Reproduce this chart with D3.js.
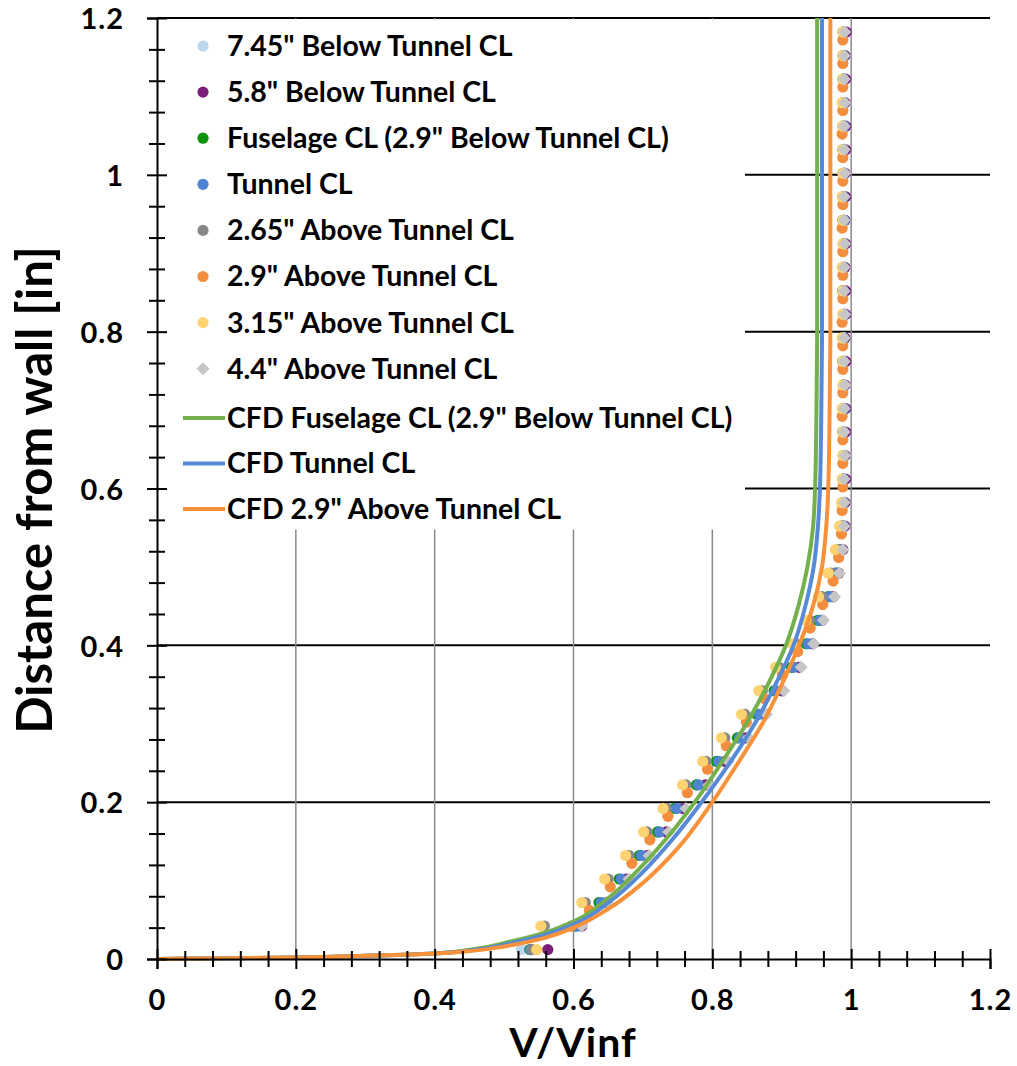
<!DOCTYPE html>
<html>
<head>
<meta charset="utf-8">
<script src="https://cdn.jsdelivr.net/npm/d3@7"></script>
<style>
  body { margin: 0; background: #fff; }
  text { font-family: Lato, "Open Sans", sans-serif; font-weight: 700; fill: #000; }
</style>
</head>
<body>
<svg id="chart" width="1017" height="1066"></svg>
<script>
// ---- Measured boundary-layer profiles: height above wall [in] and V/Vinf ----
const rowHeights = [0.012,0.042,0.072,0.102,0.132,0.162,0.192,0.222,0.252,0.282,
  0.312,0.342,0.372,0.402,0.432,0.462,0.492,0.522,0.552,0.582,
  0.612,0.642,0.672,0.702,0.732,0.762,0.792,0.822,0.852,0.882,
  0.912,0.942,0.972,1.002,1.032,1.062,1.092,1.122,1.152,1.182];
const orangeHeights = [0.042,0.062,0.092,0.122,0.152,0.182,0.212,0.242,0.272,0.302,
  0.332,0.362,0.392,0.422,0.452,0.482,0.512,0.542,0.572,0.602,
  0.632,0.662,0.692,0.722,0.752,0.782,0.812,0.842,0.872,0.902,
  0.932,0.962,0.992,1.022,1.052,1.082,1.112,1.142,1.172];
const diamondHeights = [0.042,0.072,0.102,0.132,0.162,0.192,0.222,0.252,0.282,
  0.312,0.342,0.372,0.402,0.432,0.462,0.492,0.522,0.552,0.582,
  0.612,0.642,0.672,0.702,0.732,0.762,0.792,0.822,0.852,0.882,
  0.912,0.942,0.972,1.002,1.032,1.062,1.092,1.122,1.152,1.182];

const vBelow745 = [0.525,0.600,0.636,0.667,0.696,0.722,0.748,0.778,0.807,0.837,0.866,0.891,0.916,0.937,0.955,0.969,0.979,0.986,0.989,0.989,
  0.989,0.990,0.989,0.990,0.989,0.990,0.989,0.989,0.990,0.989,0.990,0.989,0.989,0.990,0.989,0.990,0.989,0.989,0.990,0.989];
const vBelow58 = [0.563,0.612,0.648,0.676,0.706,0.734,0.758,0.790,0.818,0.848,0.875,0.900,0.925,0.944,0.958,0.974,0.982,0.988,0.991,0.991,
  0.992,0.991,0.992,0.992,0.991,0.992,0.991,0.992,0.992,0.991,0.992,0.991,0.992,0.991,0.992,0.992,0.991,0.992,0.991,0.993];
const vFuselage = [0.537,0.602,0.637,0.666,0.695,0.721,0.746,0.777,0.806,0.836,0.864,0.889,0.914,0.935,0.952,0.967,0.977,0.985,0.988,0.989,
  0.989,0.989,0.988,0.989,0.989,0.988,0.989,0.989,0.988,0.989,0.989,0.988,0.989,0.989,0.988,0.989,0.989,0.988,0.989,0.989];
const vTunnel = [0.538,0.605,0.640,0.669,0.698,0.724,0.749,0.780,0.809,0.839,0.867,0.892,0.917,0.938,0.955,0.969,0.978,0.986,0.989,0.989,
  0.989,0.989,0.989,0.990,0.989,0.989,0.989,0.990,0.989,0.989,0.989,0.990,0.989,0.989,0.989,0.990,0.989,0.989,0.989,0.989];
const vAbove265 = [0.540,0.558,0.617,0.650,0.680,0.706,0.734,0.762,0.791,0.818,0.847,0.872,0.896,0.920,0.940,0.958,0.971,0.980,0.985,0.988,
  0.988,0.989,0.988,0.988,0.989,0.988,0.988,0.989,0.988,0.988,0.989,0.988,0.988,0.988,0.989,0.988,0.988,0.989,0.988,0.988];
const vAbove29 = [0.597,0.623,0.653,0.684,0.710,0.736,0.764,0.793,0.820,0.849,0.875,0.901,0.923,0.941,0.959,0.974,0.982,0.986,0.987,0.988,
  0.988,0.988,0.987,0.988,0.988,0.988,0.987,0.988,0.988,0.988,0.987,0.988,0.988,0.988,0.987,0.988,0.988,0.988,0.988];
const vAbove315 = [0.547,0.553,0.612,0.645,0.675,0.701,0.729,0.757,0.786,0.813,0.842,0.867,0.891,0.915,0.935,0.953,0.967,0.977,0.983,0.986,
  0.987,0.988,0.988,0.987,0.988,0.988,0.987,0.988,0.988,0.987,0.988,0.988,0.987,0.988,0.988,0.988,0.987,0.988,0.988,0.988];
const vAbove44 = [0.612,0.649,0.680,0.709,0.737,0.762,0.795,0.823,0.852,0.878,0.903,0.928,0.946,0.960,0.976,0.983,0.988,0.990,0.990,
  0.990,0.991,0.990,0.990,0.991,0.990,0.990,0.991,0.990,0.990,0.991,0.990,0.990,0.991,0.990,0.990,0.991,0.990,0.990,0.991];

// ---- CFD profiles ----
const cfdFuselageD = [0,0.001,0.002,0.004,0.007,0.013,0.022,0.034,0.05,0.079,0.12,0.159,0.209,0.25,0.3,0.35,0.4,0.45,0.5,0.55,0.6,0.7,0.8,0.9,1.0,1.1,1.2];
const cfdFuselageV = [0,0.1,0.2,0.3,0.4,0.46,0.508,0.56,0.605,0.652,0.70,0.739,0.782,0.813,0.849,0.880,0.906,0.924,0.937,0.945,0.948,0.950,0.951,0.951,0.951,0.951,0.951];
const cfdTunnelD = [0,0.001,0.002,0.004,0.007,0.012,0.02,0.031,0.046,0.073,0.111,0.153,0.197,0.25,0.3,0.35,0.4,0.45,0.5,0.55,0.6,0.7,0.8,0.9,1.0,1.1,1.2];
const cfdTunnelV = [0,0.1,0.2,0.3,0.4,0.46,0.51,0.56,0.605,0.652,0.70,0.743,0.782,0.825,0.861,0.891,0.917,0.934,0.946,0.952,0.955,0.957,0.958,0.958,0.958,0.958,0.958];
const cfdAboveD = [0,0.001,0.002,0.004,0.007,0.011,0.016,0.025,0.04,0.065,0.097,0.141,0.2,0.25,0.3,0.35,0.4,0.45,0.5,0.55,0.6,0.7,0.8,0.9,1.0,1.1,1.2];
const cfdAboveV = [0,0.1,0.2,0.3,0.4,0.46,0.5,0.55,0.6,0.652,0.70,0.750,0.80,0.837,0.872,0.90,0.925,0.945,0.958,0.964,0.967,0.969,0.970,0.970,0.970,0.970,0.970];

// ---- Axis ticks ----
const majorTicks = [0, 0.2, 0.4, 0.6, 0.8, 1, 1.2];
const minorTicks = [0.04,0.08,0.12,0.16,0.24,0.28,0.32,0.36,0.44,0.48,0.52,0.56,0.64,0.68,0.72,0.76,0.84,0.88,0.92,0.96,1.04,1.08,1.12,1.16];

const pointSeries = [
  { name: '7.45" Below Tunnel CL', color: '#BDD7EE', shape: 'circle', v: vBelow745, d: rowHeights },
  { name: '5.8" Below Tunnel CL', color: '#7B1E7A', shape: 'circle', v: vBelow58, d: rowHeights },
  { name: 'Fuselage CL (2.9" Below Tunnel CL)', color: '#0A940A', shape: 'circle', v: vFuselage, d: rowHeights },
  { name: 'Tunnel CL', color: '#4F84D2', shape: 'circle', v: vTunnel, d: rowHeights },
  { name: '2.65" Above Tunnel CL', color: '#888888', shape: 'circle', v: vAbove265, d: rowHeights },
  { name: '2.9" Above Tunnel CL', color: '#F28E3E', shape: 'circle', v: vAbove29, d: orangeHeights },
  { name: '3.15" Above Tunnel CL', color: '#FDD270', shape: 'circle', v: vAbove315, d: rowHeights },
  { name: '4.4" Above Tunnel CL', color: '#C6C6C6', shape: 'diamond', v: vAbove44, d: diamondHeights }
];
const lineSeries = [
  { name: 'CFD Fuselage CL (2.9" Below Tunnel CL)', color: '#74B04C', v: cfdFuselageV, d: cfdFuselageD },
  { name: 'CFD Tunnel CL', color: '#5689D6', v: cfdTunnelV, d: cfdTunnelD },
  { name: 'CFD 2.9" Above Tunnel CL', color: '#F7923A', v: cfdAboveV, d: cfdAboveD }
];

const svg = d3.select('#chart');
const x = d3.scaleLinear().domain([0, 1.2]).range([157, 990]);
const y = d3.scaleLinear().domain([0, 1.2]).range([959, 18]);
const fmt = d3.format('~g');

// gridlines
const grid = svg.append('g');
grid.selectAll('line.h').data(majorTicks.filter(t => t > 0)).join('line')
  .attr('x1', x(0)).attr('x2', x(1.2))
  .attr('y1', d => y(d)).attr('y2', d => y(d))
  .attr('stroke', '#000').attr('stroke-width', 2);
grid.selectAll('line.v').data(majorTicks.filter(t => t > 0 && t < 1.2)).join('line')
  .attr('x1', d => x(d)).attr('x2', d => x(d))
  .attr('y1', y(0)).attr('y2', y(1.2))
  .attr('stroke', '#8a8a8a').attr('stroke-width', 1.5);

// legend panel (opaque, sits over the grid)
const legend = svg.append('g');
legend.append('rect').attr('x', 158).attr('y', 19.5).attr('width', 587).attr('height', 510).attr('fill', '#fff');

// measured points
const diamondPath = 'M0,-6.5L6.5,0L0,6.5L-6.5,0Z';
const pts = svg.append('g');
pointSeries.forEach(s => {
  const data = s.v.map((v, i) => ({ v, d: s.d[i] }));
  if (s.shape === 'circle') {
    pts.append('g').selectAll('circle').data(data).join('circle')
      .attr('cx', p => x(p.v)).attr('cy', p => y(p.d)).attr('r', 5.6).attr('fill', s.color);
  } else {
    pts.append('g').selectAll('path').data(data).join('path')
      .attr('d', diamondPath)
      .attr('transform', p => `translate(${x(p.v)},${y(p.d)})`).attr('fill', s.color);
  }
});

// CFD lines
const line = d3.line().x(p => x(p.v)).y(p => y(p.d)).curve(d3.curveMonotoneY);
lineSeries.forEach(s => {
  const data = s.v.map((v, i) => ({ v, d: s.d[i] }));
  svg.append('path').datum(data).attr('d', line)
    .attr('fill', 'none').attr('stroke', s.color).attr('stroke-width', 4).attr('stroke-linejoin', 'round');
});

// axes with crossing ticks
const yAxis = svg.append('g').attr('transform', `translate(${x(0)},0)`)
  .call(d3.axisLeft(y).tickValues(majorTicks).tickFormat(fmt).tickSize(10));
yAxis.select('.domain').attr('stroke-width', 2);
yAxis.selectAll('.tick line').attr('x1', 10).attr('stroke-width', 2);
yAxis.selectAll('.tick text').attr('x', -33).attr('dy', '0.37em')
  .attr('font-size', 29).attr('letter-spacing', 1).attr('font-family', null);
const yMinor = svg.append('g').attr('transform', `translate(${x(0)},0)`)
  .call(d3.axisLeft(y).tickValues(minorTicks).tickFormat('').tickSize(8));
yMinor.select('.domain').remove();
yMinor.selectAll('.tick line').attr('x1', 8).attr('stroke-width', 2);

const xAxis = svg.append('g').attr('transform', `translate(0,${y(0)})`)
  .call(d3.axisBottom(x).tickValues(majorTicks).tickFormat(fmt).tickSize(10));
xAxis.select('.domain').attr('stroke-width', 2);
xAxis.selectAll('.tick line').attr('y1', -10).attr('stroke-width', 2);
xAxis.selectAll('.tick text').attr('y', 51).attr('dy', 0)
  .attr('font-size', 29).attr('letter-spacing', 1).attr('font-family', null);
const xMinor = svg.append('g').attr('transform', `translate(0,${y(0)})`)
  .call(d3.axisBottom(x).tickValues(minorTicks).tickFormat('').tickSize(8));
xMinor.select('.domain').remove();
xMinor.selectAll('.tick line').attr('y1', -8).attr('stroke-width', 2);
svg.selectAll('.tick text').style('fill', '#000').style('font-weight', 700);

// axis titles
svg.append('text').attr('transform', 'translate(35,490) rotate(-90)')
  .attr('text-anchor', 'middle').attr('dy', '0.35em').attr('font-size', 49).text('Distance from wall [in]');
svg.append('text').attr('x', 573).attr('y', 1057)
  .attr('text-anchor', 'middle').attr('font-size', 41).attr('letter-spacing', 1).text('V/Vinf');

// legend entries
const rowY = i => 46 + i * 46.1;
pointSeries.forEach((s, i) => {
  const cy = rowY(i);
  if (s.shape === 'circle') {
    legend.append('circle').attr('cx', 203).attr('cy', cy).attr('r', 5.6).attr('fill', s.color);
  } else {
    legend.append('path').attr('d', diamondPath).attr('transform', `translate(203,${cy})`).attr('fill', s.color);
  }
  legend.append('text').attr('x', 227).attr('y', cy).attr('dy', '0.35em').attr('font-size', 28.5).text(s.name);
});
lineSeries.forEach((s, i) => {
  const cy = 418 + i * 45.5;
  legend.append('line').attr('x1', 183).attr('x2', 225).attr('y1', cy).attr('y2', cy)
    .attr('stroke', s.color).attr('stroke-width', 4);
  legend.append('text').attr('x', 227).attr('y', cy).attr('dy', '0.35em').attr('font-size', 28.5).text(s.name);
});
</script>
</body>
</html>
